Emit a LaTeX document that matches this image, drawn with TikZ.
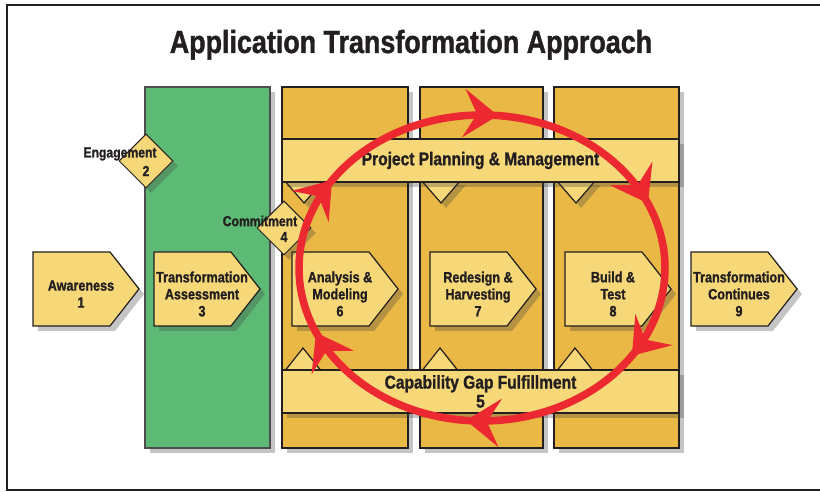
\documentclass[tikz,border=0pt]{standalone}
\usepackage{fontspec}
\setmainfont{Liberation Sans}[FakeStretch=0.84, BoldFeatures={FakeBold=1.2}]
\usetikzlibrary{calc, shapes.geometric, shadows, arrows.meta, decorations.markings}
\definecolor{gold}{HTML}{EAB845}
\definecolor{lightgold}{HTML}{F6D879}
\definecolor{stagegreen}{HTML}{5CBA75}
\definecolor{ringred}{HTML}{EC2830}
\definecolor{edge}{HTML}{231F20}

\tikzset{
  softshadow/.style={drop shadow={shadow xshift=5pt, shadow yshift=-5pt, opacity=.3, fill=black!75}},
  column/.style={draw=edge, line width=1.3pt, fill=gold, softshadow},
  banner/.style={draw=edge, line width=1.3pt, fill=lightgold, softshadow,
    minimum width=397pt, minimum height=43pt, inner sep=0pt, text=edge,
    font=\bfseries\fontsize{18.5}{19}\selectfont, align=center},
  chevron/.style={draw=edge, line width=1.2pt, fill=lightgold, softshadow},
  stagetext/.style={text=edge, align=center, inner sep=0pt,
    font=\bfseries\fontsize{15}{17}\selectfont},
  gate/.style={diamond, draw=edge, line width=1pt, fill=lightgold, softshadow,
    minimum width=54pt, minimum height=54pt, inner sep=0pt},
  gatetext/.style={text=edge, inner sep=0pt, font=\bfseries\fontsize{14.5}{16}\selectfont},
  ringtip/.tip={Stealth[length=34pt, width=48pt, inset=13pt]},
  ring/.style={draw=ringred, line width=7.5pt, postaction={decorate},
    decoration={markings,
      mark=at position 0.0151 with {\arrow[color=ringred]{ringtip}},
      mark=at position 0.1861 with {\arrow[color=ringred]{ringtip}},
      mark=at position 0.3405 with {\arrow[color=ringred]{ringtip}},
      mark=at position 0.5151 with {\arrow[color=ringred]{ringtip}},
      mark=at position 0.6861 with {\arrow[color=ringred]{ringtip}},
      mark=at position 0.8405 with {\arrow[color=ringred]{ringtip}}}}
}

\begin{document}
\begin{tikzpicture}[x=1pt, y=1pt]
\useasboundingbox (0,0) rectangle (820,492);
\draw[line width=1.2pt, draw=edge] (7,2) rectangle (830,487);

% title
\node[anchor=base, text=edge, font=\bfseries\fontsize{32}{34}\selectfont] (title) at (411,439) {Application Transformation Approach};

% columns
\draw[draw=edge!80, line width=1.3pt, fill=stagegreen, softshadow] (145,44) rectangle (270,405);
\foreach \lx/\rx in {282/408, 420/543, 554/679}
  \draw[column] (\lx,44) rectangle (\rx,405);

% small triangles under and over the banners
\foreach \lx in {284, 421, 556} {
  \draw[chevron] (\lx,312) -- ++(20,-23) -- ++(20,23) -- cycle;
  \draw[chevron] (\lx,120) -- ++(19,24) -- ++(19,-24) -- cycle;
}

% banners
\node[banner] (planning) at (480.5,331.5) {Project Planning \& Management};
\node[banner] (capability) at (480.5,100.5) {Capability Gap Fulfillment\\5};

% stages
\foreach \n/\lx/\txt in {aware/33/{Awareness\\1}, assess/154/{Transformation\\Assessment\\3},
    analysis/292/{Analysis \&\\Modeling\\6}, redesign/430/{Redesign \&\\Harvesting\\7},
    build/565/{Build \&\\Test\\8}, continues/691/{Transformation\\Continues\\9}} {
  \draw[chevron] (\lx,240) -- ++(77,0) -- ++(29,-37) -- ++(-29,-37) -- ++(-77,0) -- cycle;
  \node[stagetext] (\n) at (\lx+48,198) {\txt};
}

% gates
\node[gate] (engagement) at (146,331) {};
\node[gatetext] (engtxt) at (120,338) {Engagement};
\node[gatetext] (engnum) at (146,321) {2};
\node[gate] (commitment) at (284,264) {};
\node[gatetext] (comtxt) at (260,271) {Commitment};
\node[gatetext] (comnum) at (284,255) {4};

% cycle
\coordinate (ringc) at (482,224);
\draw[ring] ($(ringc)+(0,153)$) arc[start angle=90, end angle=-270, x radius=183pt, y radius=153pt];
\end{tikzpicture}
\end{document}
